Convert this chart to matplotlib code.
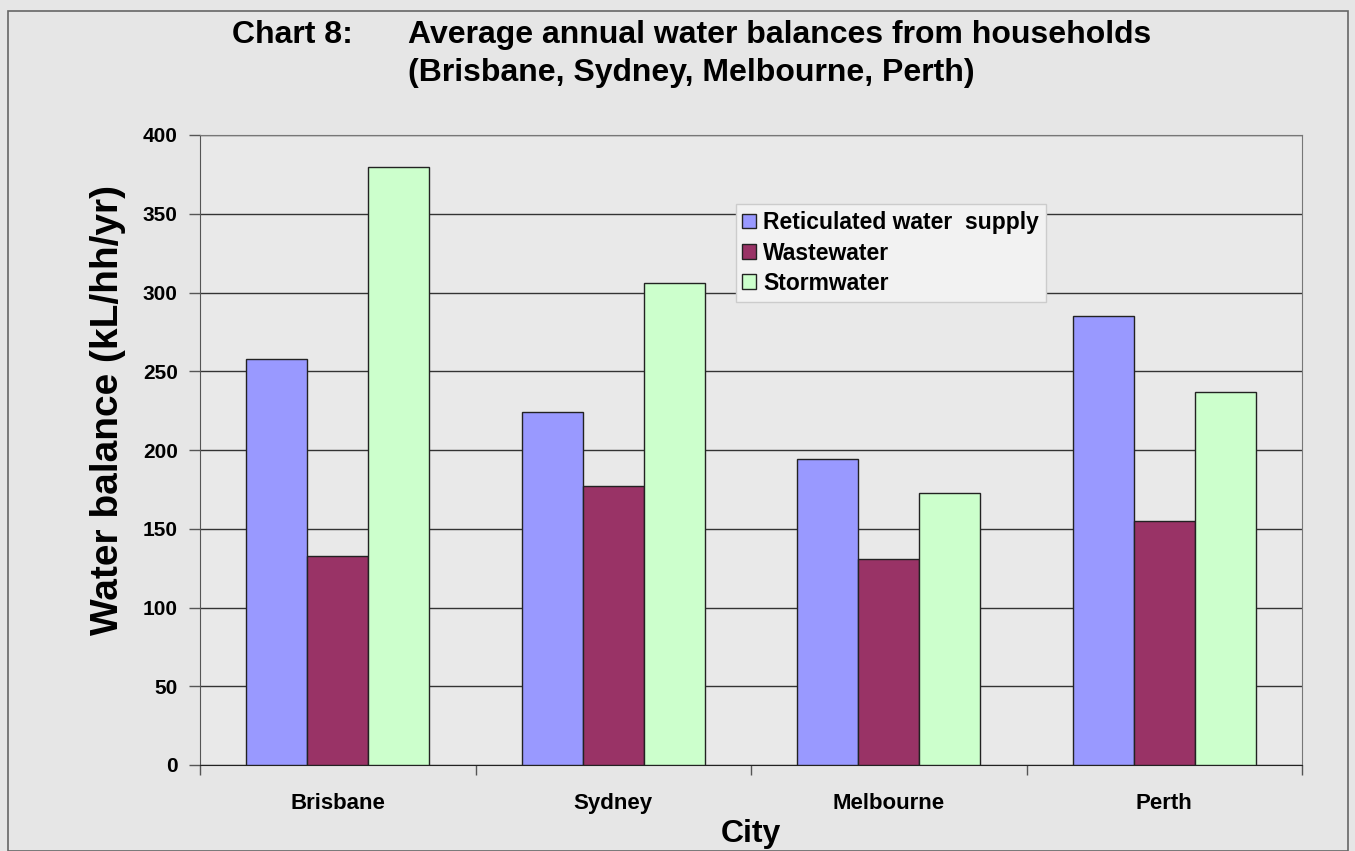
import numpy as np
import matplotlib
matplotlib.use("Agg")
import matplotlib.pyplot as plt

cities = ["Brisbane", "Sydney", "Melbourne", "Perth"]
reticulated = [258, 224, 194, 285]
wastewater = [133, 177, 131, 155]
stormwater = [380, 306, 173, 237]
series_names = ["Reticulated water  supply", "Wastewater", "Stormwater"]
colors = ["#9999ff", "#993366", "#ccffcc"]

plt.rcParams['font.family'] = ['Liberation Sans', 'DejaVu Sans']
plt.rcParams['font.weight'] = 'bold'

fig = plt.figure(figsize=(13.55, 8.51), dpi=100)
fig.patch.set_facecolor("#e6e6e6")
ax = fig.add_axes([200/1355, 1-765/851, 1102/1355, 630/851])
ax.set_facecolor("#e9e9e9")

x = np.arange(len(cities))
w = 0.222
for i, (vals, name, c) in enumerate(zip([reticulated, wastewater, stormwater], series_names, colors)):
    ax.bar(x + (i-1)*w, vals, width=w, color=c, edgecolor="#222222", linewidth=1.0, label=name, zorder=3)

ax.set_xlim(-0.5, 3.5)
ax.set_ylim(0, 400)
ax.set_yticks(range(0, 401, 50))
ax.yaxis.grid(True, color="#333333", linewidth=1.0, zorder=1)
ax.set_xticks(x)
ax.set_xticklabels(cities, fontsize=16, fontweight='bold')
ax.set_xticks(np.arange(-0.5, 4, 1), minor=True)
ax.tick_params(axis='x', which='major', length=0, pad=20)
ax.tick_params(axis='x', which='minor', length=7, width=1, color="#555555", direction='out')
ax.tick_params(axis='y', length=8, width=1, color="#555555", direction='out', labelsize=15, pad=8)
for t in ax.get_yticklabels():
    t.set_fontweight('bold')
for s in ["top", "right"]:
    ax.spines[s].set_color("#777777")
ax.spines["left"].set_color("#555555")
ax.spines["bottom"].set_color("#222222")

ax.set_ylabel("Water balance (kL/hh/yr)", fontsize=28, fontweight='bold', va='center')
ax.yaxis.set_label_coords(-0.0835, 0.563)
ax.set_xlabel("City", fontsize=23, fontweight='bold', labelpad=4)

fig.text(232/1355, 1-35/851, "Chart 8:", fontsize=23, fontweight='bold', va='center', ha='left')
fig.text(408/1355, 1-35/851, "Average annual water balances from households", fontsize=23, fontweight='bold', va='center', ha='left')
fig.text(408/1355, 1-73/851, "(Brisbane, Sydney, Melbourne, Perth)", fontsize=23, fontweight='bold', va='center', ha='left')

leg = ax.legend(loc='upper left', bbox_to_anchor=(0.486, 0.89), fontsize=16.5, frameon=True,
                fancybox=False, handlelength=0.6, handleheight=0.6, handletextpad=0.3,
                borderpad=0.3, labelspacing=0.32, borderaxespad=0)
leg.get_frame().set_facecolor("#f2f2f2")
leg.get_frame().set_edgecolor("#cccccc")
leg.get_frame().set_alpha(1)
for t in leg.get_texts():
    t.set_fontweight('bold')

# figure border
fig.add_artist(plt.Rectangle((8/1355, 0), 1340/1355, 1-11/851, transform=fig.transFigure,
                             fill=False, edgecolor="#666666", linewidth=1.2))

fig.savefig("out.png", dpi=100, facecolor=fig.get_facecolor())
